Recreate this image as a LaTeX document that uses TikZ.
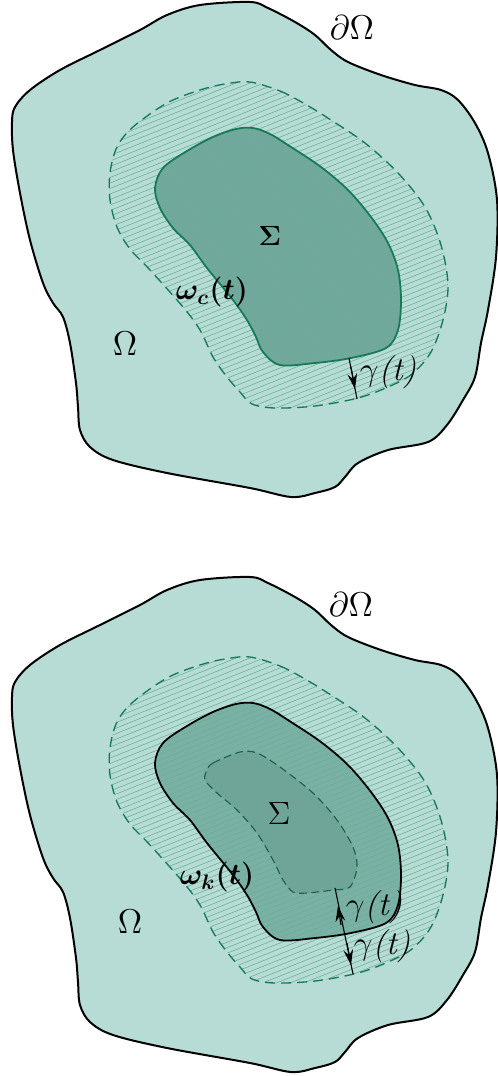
\RequirePackage{fix-cm}
\documentclass[tikz,border=0pt]{standalone}
\usepackage{amsmath,bm}
\usetikzlibrary{arrows.meta}
\definecolor{omegafill}{RGB}{183,219,213}
\definecolor{sigfill}{RGB}{113,167,156}
\definecolor{ringfill}{RGB}{122,176,165}
\definecolor{corefill}{RGB}{111,164,153}
\definecolor{dashgreen}{RGB}{22,122,88}
\definecolor{hatchc}{RGB}{105,178,146}
\definecolor{coredash}{RGB}{30,95,70}
\newcommand\OuterP{plot[smooth cycle,tension=0.55] coordinates {(250,2) (200,5) (167,15) (140,30) (100,50) (60,70) (30,90) (15,107) (12,122) (13,150) (20,193) (30,240) (43,283) (53,303) (63,317) (70,343) (76,383) (78,407) (80,430) (90,447) (113,460) (167,473) (250,488) (291,497) (315,493) (335,487) (345,477) (358,463) (388,450) (428,442) (447,425) (463,400) (475,377) (481,343) (488,310) (496,257) (497,200) (488,153) (475,123) (458,100) (441,90) (415,85) (381,75) (348,62) (331,50) (315,35) (295,22) (268,8)}}
\newcommand\DashP{plot[smooth cycle,tension=0.55] coordinates {(250,82) (280,91) (305,104) (331,120) (365,143) (398,173) (425,207) (441,245) (448,285) (443,320) (431,352) (412,374) (388,387) (358,398) (315,406) (275,408) (252,404) (240,392) (227,377) (213,357) (200,330) (183,307) (150,270) (130,249) (117,227) (110,200) (110,173) (117,147) (133,127) (167,103) (200,90) (225,84)}}
\newcommand\InnerP{plot[smooth cycle,tension=0.55] coordinates {(253,128) (270,134) (291,147) (321,167) (348,190) (371,217) (388,243) (398,270) (401,300) (398,330) (386,348) (351,358) (315,363) (280,365) (263,352) (256,337) (247,320) (233,300) (207,268) (190,245) (173,228) (160,208) (155,188) (163,168) (187,151) (213,137) (236,129)}}
\newcommand\CoreP{plot[smooth cycle,tension=0.5] coordinates {(207,195) (213,188) (240,177) (257,178) (280,192) (313,218) (337,245) (353,272) (357,292) (350,312) (333,315) (307,318) (293,317) (283,305) (273,285) (257,258) (237,235) (217,218) (205,205)}}
\newcommand\gamt{$\gamma$\textit{(t)}}
\tikzset{
  outerline/.style={draw=black,line width=0.9pt,fill=omegafill},
  dashline/.style={draw=dashgreen,line width=0.6pt,dash pattern=on 4.5pt off 2.7pt},
  hatchline/.style={draw=hatchc,line width=0.25pt},
  lbl/.style={inner sep=0pt,font=\fontsize{12.5}{15}\selectfont},
  omlbl/.style={inner sep=0pt,font=\fontsize{13.5}{16}\selectfont},
  siglbl/.style={inner sep=0pt,font=\fontsize{14.5}{17}\selectfont},
  biglbl/.style={inner sep=0pt,font=\fontsize{15.5}{18}\selectfont},
  omglbl/.style={inner sep=0pt,font=\fontsize{15.5}{18}\selectfont},
  glbl/.style={inner sep=0pt,font=\fontsize{15}{18}\selectfont},
  arr/.style={line width=0.5pt,-{Stealth[length=7pt,width=4.4pt,inset=2.5pt]}},
  plain/.style={line width=0.5pt}
}
\begin{document}
\begin{tikzpicture}[x=0.45pt,y=-0.45pt]
\useasboundingbox (0,0) rectangle (498,1076);
% ---------- top diagram ----------
\begin{scope}
\path[outerline] \OuterP;
\fill[sigfill] \InnerP;
\begin{scope}
\clip \DashP;
\foreach \b in {150,155.5,...,660} \draw[hatchline] (95,{\b-38}) -- (460,{\b-184});
\end{scope}
\draw[dashline] \DashP;
\draw[draw=dashgreen,line width=0.8pt] \InnerP;
\coordinate (a1) at (349,358);
\coordinate (a1m) at (351,367);
\coordinate (a1t) at (355,389);
\coordinate (a1e) at (357,399);
\draw[plain] (a1) -- (a1e);
\draw[arr] (a1m) -- (a1t);
\node[biglbl] (dOm1) at (352,28) {$\partial\Omega$};
\node[omglbl] (Om1) at (125,344) {$\Omega$};
\node[lbl] (Sig1) at (270,236) {$\boldsymbol{\Sigma}$};
\node[omlbl] (om1) at (212,292) {$\boldsymbol{\omega_c(t)}$};
\node[glbl] (gam1) at (388,372) {\gamt};
\end{scope}
% ---------- bottom diagram ----------
\begin{scope}[shift={(0,575)}]
\path[outerline] \OuterP;
\fill[ringfill] \InnerP;
\begin{scope}
\clip \DashP;
\foreach \b in {150,155.5,...,660} \draw[hatchline] (95,{\b-38}) -- (460,{\b-184});
\end{scope}
\fill[corefill] \CoreP;
\draw[dashline] \DashP;
\draw[draw=black,line width=0.8pt] \InnerP;
\draw[draw=coredash,line width=0.5pt,dash pattern=on 3.5pt off 2pt] \CoreP;
\coordinate (b1) at (335,313);
\coordinate (b1m) at (341,350);
\coordinate (b1t) at (338,331);
\coordinate (b2m) at (347,368);
\coordinate (b2t) at (351,390);
\coordinate (b1e) at (353,399);
\draw[plain] (b1) -- (b1e);
\draw[arr] (b1m) -- (b1t);
\draw[arr] (b2m) -- (b2t);
\node[biglbl] (dOm2) at (351,30) {$\partial\Omega$};
\node[omglbl] (Om2) at (130,347) {$\Omega$};
\node[siglbl] (Sig2) at (279,238) {$\Sigma$};
\node[omlbl] (om2) at (217,302) {$\boldsymbol{\omega_k(t)}$};
\node[glbl] (gam2) at (374,332) {\gamt};
\node[glbl] (gam3) at (382,371) {\gamt};
\end{scope}
\end{tikzpicture}
\end{document}
